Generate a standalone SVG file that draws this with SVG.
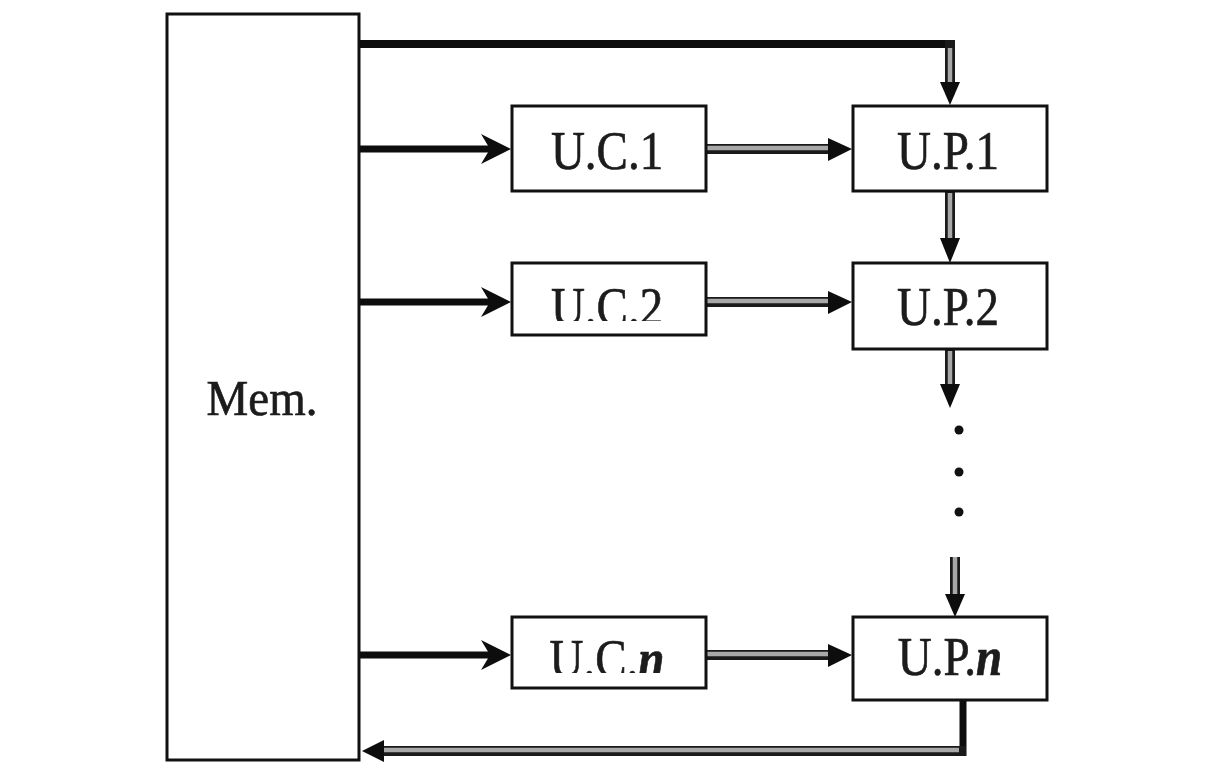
<svg xmlns="http://www.w3.org/2000/svg" width="1207" height="773" viewBox="0 0 1207 773">
  <style>
    .box { fill: #ffffff; stroke: #111111; stroke-width: 3; }
    .lbl { font-family: "Liberation Serif", "Times New Roman", serif; font-size: 47px; fill: #1c1c1c; stroke: #1c1c1c; stroke-width: 0.6; text-anchor: middle; }
    .thick { fill: none; stroke: #0d0d0d; stroke-width: 7; }
    .dblOuter { fill: none; stroke: #1a1a1a; stroke-width: 10; }
    .dblInner { fill: none; stroke: #a8a8a8; stroke-width: 4.5; }
    .head { fill: #0d0d0d; }
  </style>
  <defs>
    <clipPath id="clipUC2"><rect x="512" y="263" width="194" height="58"/></clipPath>
    <clipPath id="clipUCn"><rect x="512" y="617" width="194" height="56"/></clipPath>
  </defs>
  <rect width="1207" height="773" fill="#ffffff"/>

  <!-- connectors -->
  <g id="connectors">
    <!-- memory to control units (solid bold arrows) -->
    <line class="thick" x1="359" y1="149" x2="490" y2="149"/>
    <polygon class="head" points="511,149 481,134 490,149 481,164"/>
    <line class="thick" x1="359" y1="302" x2="490" y2="302"/>
    <polygon class="head" points="511,302 481,287 490,302 481,317"/>
    <line class="thick" x1="359" y1="655" x2="490" y2="655"/>
    <polygon class="head" points="511,655 481,640 490,655 481,670"/>

    <!-- memory bus across the top to U.P.1 -->
    <line x1="359" y1="44" x2="954" y2="44" stroke="#0d0d0d" stroke-width="8"/>
    <line class="dblOuter" x1="950" y1="40" x2="950" y2="88"/>
    <line class="dblInner" x1="950" y1="48" x2="950" y2="88"/>
    <polygon class="head" points="950,105 940,82 960,82"/>

    <!-- control unit to processing unit (double-line arrows) -->
    <line class="dblOuter" x1="706" y1="149" x2="832" y2="149"/>
    <line class="dblInner" x1="706" y1="148" x2="832" y2="148"/>
    <polygon class="head" points="852,149 828,138 828,161"/>
    <line class="dblOuter" x1="706" y1="302" x2="832" y2="302"/>
    <line class="dblInner" x1="706" y1="301" x2="832" y2="301"/>
    <polygon class="head" points="852,302 828,291 828,314"/>
    <line class="dblOuter" x1="706" y1="655" x2="832" y2="655"/>
    <line class="dblInner" x1="706" y1="654" x2="832" y2="654"/>
    <polygon class="head" points="852,655 828,644 828,667"/>

    <!-- chain of processing units -->
    <line class="dblOuter" x1="950" y1="191" x2="950" y2="244"/>
    <line class="dblInner" x1="950" y1="193" x2="950" y2="244"/>
    <polygon class="head" points="950,263 940,238 960,238"/>
    <line class="dblOuter" x1="950" y1="349" x2="950" y2="390"/>
    <line class="dblInner" x1="950" y1="351" x2="950" y2="390"/>
    <polygon class="head" points="950,408 940,384 960,384"/>
    <line class="dblOuter" x1="955" y1="557" x2="955" y2="600"/>
    <line class="dblInner" x1="955" y1="557" x2="955" y2="600"/>
    <polygon class="head" points="955,617 945,594 965,594"/>

    <!-- ellipsis between units -->
    <circle cx="959" cy="430" r="4.5" fill="#111111"/>
    <circle cx="959" cy="472" r="4.5" fill="#111111"/>
    <circle cx="959" cy="512" r="4.5" fill="#111111"/>

    <!-- return path from U.P.n to memory -->
    <line x1="963" y1="700" x2="963" y2="756" stroke="#0d0d0d" stroke-width="7"/>
    <line class="dblOuter" x1="966" y1="751" x2="380" y2="751"/>
    <line class="dblInner" x1="959" y1="750" x2="380" y2="750"/>
    <polygon class="head" points="362,751 384,740 384,762"/>
  </g>

  <!-- memory -->
  <g id="mem">
    <rect class="box" x="167" y="14" width="192" height="746"/>
    <text class="lbl" transform="translate(262,415) scale(1,1.1)">Mem.</text>
  </g>

  <!-- control units -->
  <g id="uc1">
    <rect class="box" x="512" y="106" width="194" height="85"/>
    <text class="lbl" transform="translate(607,169) scale(1,1.15)">U.C.1</text>
  </g>
  <g id="uc2">
    <rect class="box" x="512" y="263" width="194" height="72"/>
    <g clip-path="url(#clipUC2)">
      <text class="lbl" transform="translate(607,325) scale(1,1.15)">U.C.2</text>
    </g>
  </g>
  <g id="ucn">
    <rect class="box" x="512" y="617" width="194" height="71"/>
    <g clip-path="url(#clipUCn)">
      <text class="lbl" transform="translate(607,677) scale(1,1.15)">U.C.<tspan font-style="italic" font-weight="bold">n</tspan></text>
    </g>
  </g>

  <!-- processing units -->
  <g id="up1">
    <rect class="box" x="853" y="106" width="194" height="85"/>
    <text class="lbl" transform="translate(948,169) scale(1,1.15)">U.P.1</text>
  </g>
  <g id="up2">
    <rect class="box" x="853" y="263" width="194" height="86"/>
    <text class="lbl" transform="translate(948,325) scale(1,1.15)">U.P.2</text>
  </g>
  <g id="upn">
    <rect class="box" x="853" y="617" width="194" height="83"/>
    <text class="lbl" transform="translate(950,675) scale(1,1.15)">U.P.<tspan font-style="italic" font-weight="bold">n</tspan></text>
  </g>
</svg>
